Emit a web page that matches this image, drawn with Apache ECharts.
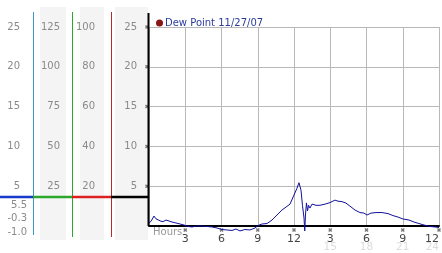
<!DOCTYPE html>
<html><head><meta charset="utf-8">
<script src="https://cdn.jsdelivr.net/npm/echarts@6/dist/echarts.min.js"></script>
<style>html,body{margin:0;padding:0;background:#fff}#c{width:442px;height:253px}</style>
</head><body><div id="c"></div>
<script>
// ---- data ----
const seriesName = 'Dew Point 11/27/07';
const hours = [0,0.17,0.41,0.58,0.74,0.99,1.16,1.41,1.57,1.9,2.23,2.57,2.9,3.23,3.56,3.97,4.39,4.8,5.21,5.63,6.04,6.46,6.87,7.2,7.53,7.94,8.36,8.77,9.02,9.35,9.77,10.18,10.59,11.0,11.34,11.67,12.0,12.25,12.41,12.58,12.7,12.83,12.89,12.95,13.03,13.12,13.2,13.32,13.49,13.82,14.15,14.57,14.98,15.39,15.64,15.97,16.3,16.63,17.05,17.46,17.79,18.04,18.37,18.79,19.28,19.78,20.19,20.61,21.02,21.52,21.93,22.34,22.76,23.26,23.67,24];
const dewPoint = [0.38,0.6,1.25,0.9,0.9,0.6,0.55,0.75,0.6,0.5,0.38,0.25,0.12,-0.06,-0.12,0,0,-0.06,-0.12,-0.25,-0.44,-0.5,-0.56,-0.38,-0.62,-0.44,-0.5,-0.25,0.06,0.25,0.31,0.75,1.38,2.0,2.38,2.75,3.9,4.75,5.44,4.5,2.6,1.0,-0.62,1.38,2.9,1.9,2.6,2.25,2.75,2.6,2.6,2.75,2.94,3.25,3.12,3.06,2.88,2.5,2.0,1.69,1.62,1.38,1.62,1.69,1.69,1.56,1.31,1.12,0.88,0.75,0.5,0.31,0.12,-0.06,-0.12,-0.19];
const xTicks = [3,6,9,12,15,18,21,24];
const xTickLabels = ['', '3','6','9','12','3','6','9','12'];
const xTickLabels2 = {15:'15',18:'18',21:'21',24:'24'};
const yTicks = [5,10,15,20,25];
const currentLabels = ['5.5','-0.3','-1.0'];

const chart = echarts.init(document.getElementById('c'));
const FONT = 'DejaVu Sans';
const grey = '#8a8a8a';
const L = 149, T = 27, W = 290, H = 199;
const hideZero = v => v === 0 ? '' : String(v);
const crossPath = 'path://M0,1L1,0L2,1L3,0L4,1L3,2L4,3L3,4L2,3L1,4L0,3L1,2Z';

chart.setOption({
  animation: false,
  textStyle: {fontFamily: FONT},
  legend: {
    left: 151, top: 13, itemWidth: 7, itemHeight: 7, itemGap: 4,
    data: [{name: seriesName, icon: 'circle', itemStyle: {color: '#8b1414'}}],
    textStyle: {color: '#2a3c9e', fontSize: 10, fontFamily: FONT, padding: [0,0,0,-3]}
  },
  grid: [
    {left: L, top: T, width: W, height: H, outerBoundsMode: 'none', containLabel: false},
    {left: L, top: T, width: W, height: H * 26 / 25, outerBoundsMode: 'none', containLabel: false}
  ],
  xAxis: [
    {gridIndex: 0, type: 'value', min: 0, max: 24, interval: 3,
     axisLine: {lineStyle: {color: '#000', width: 2}}, axisTick: {show: false},
     splitLine: {show: true, lineStyle: {color: '#b8b8b8'}},
     axisLabel: {color: '#444', fontSize: 11, margin: 8, showMinLabel: true, showMaxLabel: true,
       alignMaxLabel: 'right', hideOverlap: false,
       formatter: (v, i) => xTickLabels[Math.round(v / 3)]}},
    {gridIndex: 0, type: 'value', min: 0, max: 24, interval: 3, position: 'bottom', offset: 7,
     axisLine: {show: false}, axisTick: {show: false}, splitLine: {show: false},
     axisLabel: {color: '#dcdcdc', fontSize: 10.5, margin: 9, showMaxLabel: true,
       alignMaxLabel: 'right', hideOverlap: false,
       formatter: v => xTickLabels2[v] || ''}},
    {gridIndex: 1, type: 'value', min: 0, max: 24, show: false}
  ],
  yAxis: [
    {gridIndex: 0, type: 'value', min: 0, max: 25, interval: 5,
     axisLine: {show: false}, axisTick: {show: false},
     splitLine: {show: true, lineStyle: {color: '#b8b8b8'}},
     axisLabel: {color: grey, fontSize: 10, margin: 12, formatter: hideZero}},
    {gridIndex: 0, type: 'value', min: 0, max: 100, interval: 20, position: 'left', offset: 42,
     axisLine: {show: false}, axisTick: {show: false}, splitLine: {show: false},
     axisLabel: {color: grey, fontSize: 10, margin: 12, formatter: hideZero}},
    {gridIndex: 0, type: 'value', min: 0, max: 125, interval: 25, position: 'left', offset: 77,
     axisLine: {show: false}, axisTick: {show: false}, splitLine: {show: false},
     axisLabel: {color: grey, fontSize: 10, margin: 12, formatter: hideZero}},
    {gridIndex: 0, type: 'value', min: 0, max: 25, interval: 5, position: 'left', offset: 117,
     axisLine: {show: false}, axisTick: {show: false}, splitLine: {show: false},
     axisLabel: {color: grey, fontSize: 10, margin: 12, formatter: hideZero}},
    {gridIndex: 1, type: 'value', min: -1, max: 25, show: false}
  ],
  series: [
    {name: seriesName, type: 'line', xAxisIndex: 2, yAxisIndex: 4,
     data: hours.map((h, i) => [h, dewPoint[i]]),
     showSymbol: false, lineStyle: {color: '#10109a', width: 1}, itemStyle: {color: '#10109a'}},
    {type: 'scatter', xAxisIndex: 0, yAxisIndex: 0, symbol: crossPath, symbolSize: 4,
     symbolOffset: [0, 4], itemStyle: {color: '#555'}, silent: true,
     data: xTicks.map(h => [h, 0])},
    {type: 'scatter', xAxisIndex: 0, yAxisIndex: 0, symbol: crossPath, symbolSize: 4,
     symbolOffset: [-2, 0], itemStyle: {color: '#555'}, silent: true,
     data: yTicks.map(v => [0, v])}
  ],
  graphic: [
    {type: 'rect', z: -10, shape: {x: 40, y: 7, width: 26, height: 233}, style: {fill: '#f4f4f4'}},
    {type: 'rect', z: -10, shape: {x: 80, y: 7, width: 24, height: 233}, style: {fill: '#f4f4f4'}},
    {type: 'rect', z: -10, shape: {x: 115, y: 7, width: 33, height: 233}, style: {fill: '#f4f4f4'}},
    {type: 'line', z: 5, shape: {x1: 33.5, y1: 12, x2: 33.5, y2: 235}, style: {stroke: '#3a9ac8', lineWidth: 1}},
    {type: 'line', z: 5, shape: {x1: 72.5, y1: 12, x2: 72.5, y2: 237}, style: {stroke: '#2aa82a', lineWidth: 1}},
    {type: 'line', z: 5, shape: {x1: 111.5, y1: 12, x2: 111.5, y2: 237}, style: {stroke: '#b82828', lineWidth: 1}},
    {type: 'line', z: 6, shape: {x1: 0, y1: 197, x2: 33, y2: 197}, style: {stroke: '#1a3acc', lineWidth: 2.5}},
    {type: 'line', z: 6, shape: {x1: 33, y1: 197, x2: 72, y2: 197}, style: {stroke: '#2aa82a', lineWidth: 2.5}},
    {type: 'line', z: 6, shape: {x1: 72, y1: 197, x2: 111, y2: 197}, style: {stroke: '#dd2020', lineWidth: 2.5}},
    {type: 'line', z: 6, shape: {x1: 111, y1: 197, x2: 149, y2: 197}, style: {stroke: '#000', lineWidth: 2.5}},
    {type: 'line', z: 6, shape: {x1: 148.5, y1: 13, x2: 148.5, y2: 226}, style: {stroke: '#000', lineWidth: 2}},
    {type: 'text', x: 27, y: 205, style: {text: currentLabels[0], fill: grey, font: '10px "DejaVu Sans"', textAlign: 'right', textVerticalAlign: 'middle'}},
    {type: 'text', x: 27, y: 218, style: {text: currentLabels[1], fill: grey, font: '10px "DejaVu Sans"', textAlign: 'right', textVerticalAlign: 'middle'}},
    {type: 'text', x: 27, y: 232, style: {text: currentLabels[2], fill: grey, font: '10px "DejaVu Sans"', textAlign: 'right', textVerticalAlign: 'middle'}},
    {type: 'text', x: 153, y: 232, style: {text: 'Hours', fill: '#999', font: '10px "DejaVu Sans"', textAlign: 'left', textVerticalAlign: 'middle'}}
  ]
});
</script>
</body></html>
